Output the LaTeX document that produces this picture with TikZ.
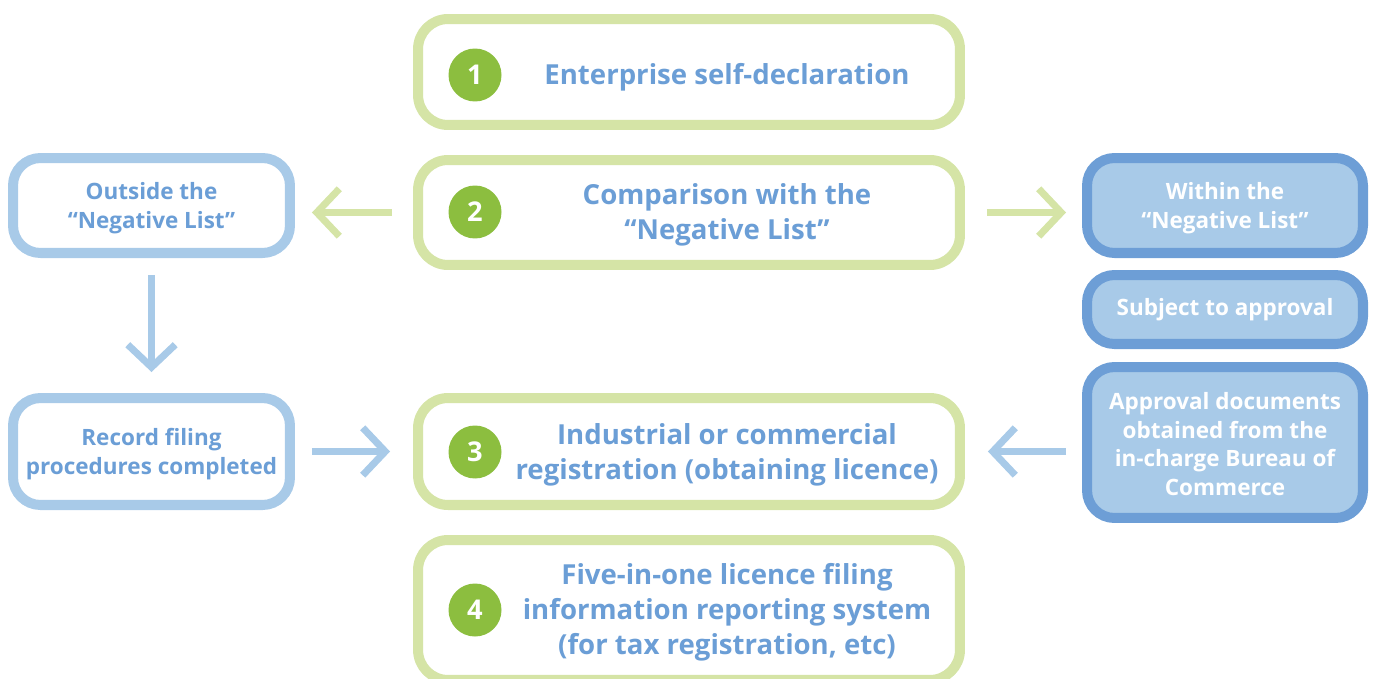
\documentclass[tikz,border=0pt]{standalone}
\usepackage{fontspec}
\setmainfont{Open Sans}
\usetikzlibrary{arrows.meta}
\definecolor{stepgreen}{HTML}{D5E4A6}
\definecolor{dotgreen}{HTML}{8CBE3F}
\definecolor{textblue}{HTML}{6B9ED6}
\definecolor{paleblue}{HTML}{A8CAE8}
\definecolor{deepblue}{HTML}{6D9ED6}

\begin{document}
\begin{tikzpicture}[x=0.02cm, y=-0.02cm,
    stepbox/.style={rectangle, draw=stepgreen, line width=5.7pt, rounded corners=0.6cm, fill=white, minimum width=10.84cm},
    sidebox/.style={rectangle, draw=paleblue, line width=5.7pt, rounded corners=0.55cm, fill=white, minimum width=5.54cm, text=textblue},
    listbox/.style={rectangle, draw=deepblue, fill=paleblue, line width=5.7pt, rounded corners=0.55cm, minimum width=5.52cm, text=white},
    numdot/.style={circle, fill=dotgreen, text=white, minimum size=1.06cm, inner sep=0pt, font=\bfseries\fontsize{15.5}{18}\selectfont},
    steptext/.style={text=textblue, align=center, font=\bfseries\fontsize{15.7}{20}\selectfont},
    sidetext/.style={align=center, font=\bfseries\fontsize{12.8}{16.4}\selectfont}, 
    garrow/.style={draw=stepgreen, line width=4pt, -{Straight Barb[length=0.45cm, width=0.95cm]}},
    barrow/.style={draw=paleblue, line width=4pt, -{Straight Barb[length=0.45cm, width=0.95cm]}}]
    \useasboundingbox (0,0) rectangle (1375,679);

    \node[stepbox, minimum height=2.12cm] (s1) at (689,72) {};
    \node[stepbox, minimum height=2.1cm] (s2) at (689,212.5) {};
    \node[stepbox, minimum height=2.14cm] (s3) at (689,451.5) {};
    \node[stepbox, minimum height=2.8cm] (s4) at (689,610) {};

    \node[numdot] (n1) at (475,75) {1};
    \node[numdot] (n2) at (475,212) {2};
    \node[numdot] (n3) at (475,452) {3};
    \node[numdot] (n4) at (475,610) {4};

    \node[steptext] (t1) at (727,77) {Enterprise self-declaration};
    \node[steptext] (t2) at (727,215) {Comparison with the\\“Negative List”};
    \node[steptext] (t3) at (727,454.5) {Industrial or commercial\\registration (obtaining licence)};
    \node[steptext] (t4) at (727,612.5) {Five-in-one licence filing\\information reporting system\\(for tax registration, etc)};

    \node[sidebox, minimum height=1.9cm] (out) at (151.5,205.5) {};
    \node[sidetext, text=textblue] (outtxt) at (151.5,208) {Outside the\\“Negative List”};
    \node[sidebox, minimum height=2.14cm] (rec) at (151.5,451.5) {};
    \node[sidetext, text=textblue] (rectxt) at (151.5,454) {Record filing\\procedures completed};

    \node[listbox, minimum height=1.9cm] (in) at (1225,205.5) {};
    \node[sidetext, text=white] (intxt) at (1225,208) {Within the\\“Negative List”};
    \node[listbox, sidetext, minimum height=1.38cm] (sub) at (1225,309.5) {Subject to approval};
    \node[listbox, minimum height=3.02cm] (appr) at (1225,442.5) {};
    \node[sidetext, text=white] (apprtxt) at (1225,444) {Approval documents\\obtained from the\\in-charge Bureau of\\Commerce};

    \draw[garrow, shorten <=0.42cm, shorten >=0.34cm] (s2.west) -- (s2.west -| out.east);
    \draw[garrow, shorten <=0.44cm, shorten >=0.32cm] (s2.east) -- (s2.east -| in.west);
    \draw[barrow, shorten <=0.34cm, shorten >=0.42cm] (out.south) -- (rec.north);
    \draw[barrow, shorten <=0.34cm, shorten >=0.46cm] (rec.east) -- (s3.west);
    \draw[barrow, shorten <=0.32cm, shorten >=0.46cm] (appr.west |- s3.east) -- (s3.east);
\end{tikzpicture}
\end{document}
